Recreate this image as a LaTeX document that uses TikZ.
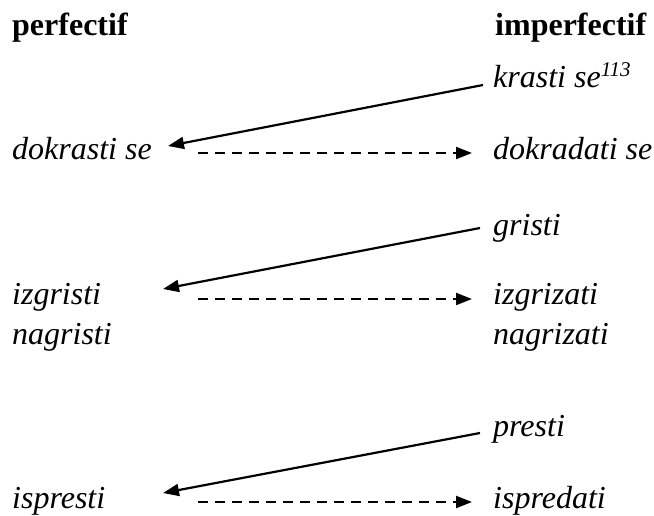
\documentclass[tikz,border=0pt]{standalone}
\usepackage{fontspec}
\setmainfont{Liberation Serif}[ItalicFont={Liberation Serif Italic},BoldFont={Liberation Serif Bold}]
\usetikzlibrary{arrows.meta,calc}

\begin{document}
\begin{tikzpicture}[x=1pt,y=1pt,
  word/.style={anchor=base west,inner sep=0pt,font=\fontsize{32}{38}\selectfont\itshape},
  head/.style={word,font=\fontsize{32}{38}\selectfont\bfseries},
  derive/.style={line width=2.2pt,-{Triangle[length=16pt,width=12pt]}},
  pair/.style={derive,dash pattern=on 10pt off 7pt}]
  \useasboundingbox (0,0) rectangle (654,-516);

  % column heads
  \node[head] (perf)   at (12,-36)  {perfectif};
  \node[head] (imperf) at (495,-36) {imperfectif};

  % left column
  \node[word] (dokrasti) at (12,-160) {dokrasti se};
  \node[word] (izgristi) at (12,-305) {izgristi};
  \node[word] (nagristi) at (12,-344) {nagristi};
  \node[word] (ispresti) at (12,-508) {ispresti};

  % right column
  \node[word] (krasti)    at (493,-88)  {krasti se\raisebox{11pt}{\fontsize{21}{21}\selectfont 113}};
  \node[word] (dokradati) at (493,-160) {dokradati se};
  \node[word] (gristi)    at (493,-236) {gristi};
  \node[word] (izgrizati) at (493,-305) {izgrizati};
  \node[word] (nagrizati) at (493,-344) {nagrizati};
  \node[word] (presti)    at (493,-436) {presti};
  \node[word] (ispredati) at (493,-508) {ispredati};

  % arrow ends
  \coordinate (tip1) at (168,-146);
  \coordinate (tip2) at (163,-289);
  \coordinate (tip3) at (163,-493);
  \coordinate (dash1) at (198,-153);
  \coordinate (dash2) at (198,-299);
  \coordinate (dash3) at (198,-502);

  \draw[derive] ($(krasti.base west)+(-10,3)$) -- (tip1);
  \draw[pair] (dash1) -- ($(dokradati.base west)+(-21,7)$);

  \draw[derive] ($(gristi.base west)+(-13,8)$) -- (tip2);
  \draw[pair] (dash2) -- ($(izgrizati.base west)+(-21,6)$);

  \draw[derive] ($(presti.base west)+(-13,3)$) -- (tip3);
  \draw[pair] (dash3) -- ($(ispredati.base west)+(-21,6)$);
\end{tikzpicture}
\end{document}
